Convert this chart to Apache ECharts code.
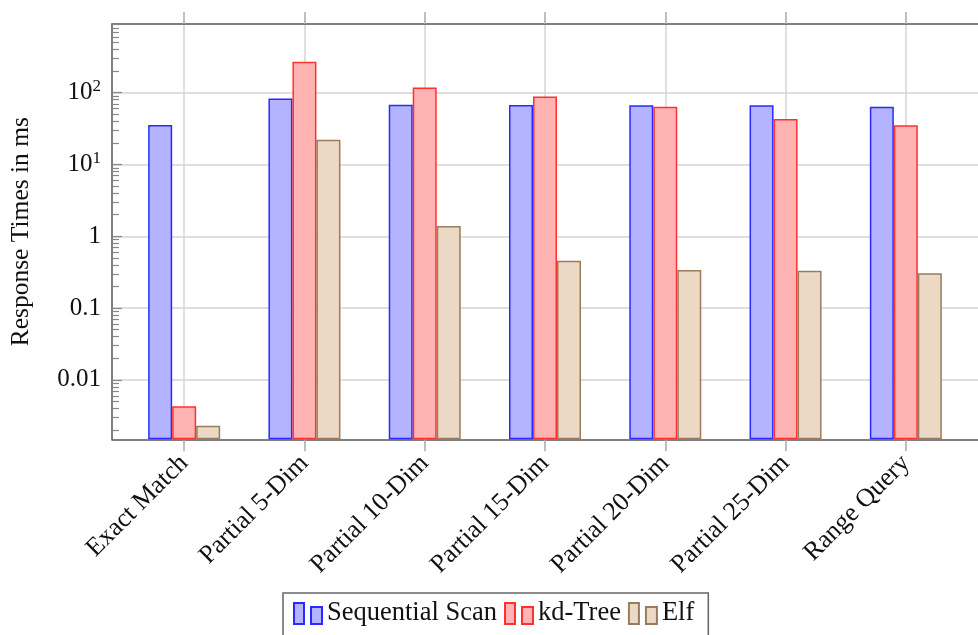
<!DOCTYPE html>
<html>
<head>
<meta charset="utf-8">
<script src="https://cdn.jsdelivr.net/npm/echarts@6/dist/echarts.min.js"></script>
<style>html,body{margin:0;padding:0;background:#fff;}#c{width:978px;height:635px;}</style>
</head>
<body>
<div id="c"></div>
<script>
const categories = ['Exact Match','Partial 5-Dim','Partial 10-Dim','Partial 15-Dim','Partial 20-Dim','Partial 25-Dim','Range Query'];
const seqScan = [35.6, 82.8, 68.2, 67.6, 67.0, 67.0, 64.0];
const kdTree  = [0.0043, 271, 118, 88.3, 64.0, 43.1, 35.2];
const elf     = [0.0023, 22.2, 1.39, 0.457, 0.339, 0.332, 0.305];
const yTickValues = [0.01, 0.1, 1, 10, 100];
const yTickLabels = ['0.01', '0.1', '1', '10{s|1}', '10{s|2}'];
const seriesNames = ['Sequential Scan', 'kd-Tree', 'Elf'];

const FONT = 'Liberation Serif';
const Y_MIN = 0.00149, Y_MAX = 906;
const catIdx = categories.map((_, i) => i);
const minorTicks = [];
for (let e = -3; e <= 2; e++) for (let m = 2; m <= 9; m++) {
  const v = +(m * Math.pow(10, e)).toPrecision(3);
  if (v > Y_MIN && v < Y_MAX) minorTicks.push(v);
}
const toPairs = arr => arr.map((v, i) => [i, v]);
const icon = 'path://M0,0h10v21h-10z M17,4h11v17h-11z';

const styles = [
  {color: '#b3b3ff', borderColor: '#2a2aff'},
  {color: '#ffb3b3', borderColor: '#ff3030'},
  {color: '#ebd9c5', borderColor: '#9a7b5e'}
];
const data = [seqScan, kdTree, elf];

const chart = echarts.init(document.getElementById('c'));
chart.setOption({
  animation: false,
  backgroundColor: '#fff',
  grid: {left: 111.7, right: -12, top: 24, bottom: 635 - 439.3, containLabel: false},
  legend: {
    left: 283, top: 593,
    padding: [7, 14, 14, 10],
    borderColor: '#666', borderWidth: 1.5,
    itemWidth: 28, itemHeight: 21, itemGap: 7,
    icon: icon,
    textStyle: {fontFamily: FONT, fontSize: 26.5, color: '#111'},
    data: seriesNames
  },
  xAxis: [{
    type: 'value', min: -0.6, max: 6.6, position: 'bottom',
    axisLine: {show: true, onZero: false, lineStyle: {color: '#555', width: 1.5}},
    axisTick: {show: true, inside: false, length: 12, customValues: catIdx, lineStyle: {color: '#aaa', width: 1.5}},
    axisLabel: {show: true, customValues: catIdx, rotate: 45, margin: 20,
      formatter: v => categories[Math.round(v)], fontFamily: FONT, fontSize: 26, color: '#111'},
    splitLine: {show: true, lineStyle: {color: '#d4d4d4', width: 1.5}}
  }, {
    type: 'value', min: -0.6, max: 6.6, position: 'top',
    axisLine: {show: true, onZero: false, lineStyle: {color: '#555', width: 1.5}},
    axisTick: {show: true, inside: false, length: 12, customValues: catIdx, lineStyle: {color: '#aaa', width: 1.5}},
    axisLabel: {show: false},
    splitLine: {show: false}
  }],
  yAxis: [{
    type: 'log', logBase: 10, min: Y_MIN, max: Y_MAX, startValue: Y_MIN, position: 'left',
    name: 'Response Times in ms', nameLocation: 'middle', nameGap: 78, nameRotate: 90,
    nameTextStyle: {fontFamily: FONT, fontSize: 25.5, color: '#111'},
    axisLine: {show: true, onZero: false, lineStyle: {color: '#555', width: 1.5}},
    axisTick: {show: true, inside: true, length: 10, customValues: yTickValues, lineStyle: {color: '#888', width: 1.2}},
    axisLabel: {show: true, customValues: yTickValues, margin: 11,
      formatter: v => { const i = yTickValues.findIndex(t => Math.abs(Math.log10(t) - Math.log10(v)) < 1e-6); return i >= 0 ? yTickLabels[i] : ''; },
      fontFamily: FONT, fontSize: 25, color: '#111',
      rich: {s: {fontFamily: FONT, fontSize: 17, color: '#111', padding: [0, 0, 12, 0]}}},
    splitLine: {show: true, lineStyle: {color: '#d4d4d4', width: 1.5}}
  }, {
    type: 'log', logBase: 10, min: Y_MIN, max: Y_MAX, position: 'left', offset: 0,
    axisLine: {show: false, onZero: false},
    axisTick: {show: true, inside: true, length: 7, customValues: minorTicks, lineStyle: {color: '#888', width: 1.2}},
    axisLabel: {show: false},
    splitLine: {show: false}
  }],
  series: seriesNames.map((name, k) => ({
    name: name, type: 'bar', xAxisIndex: 0, yAxisIndex: 0,
    barWidth: 24, barGap: '0%', startValue: Y_MIN,
    itemStyle: {color: styles[k].color, borderColor: styles[k].borderColor, borderWidth: 1.5},
    data: toPairs(data[k])
  }))
});
</script>
</body>
</html>
